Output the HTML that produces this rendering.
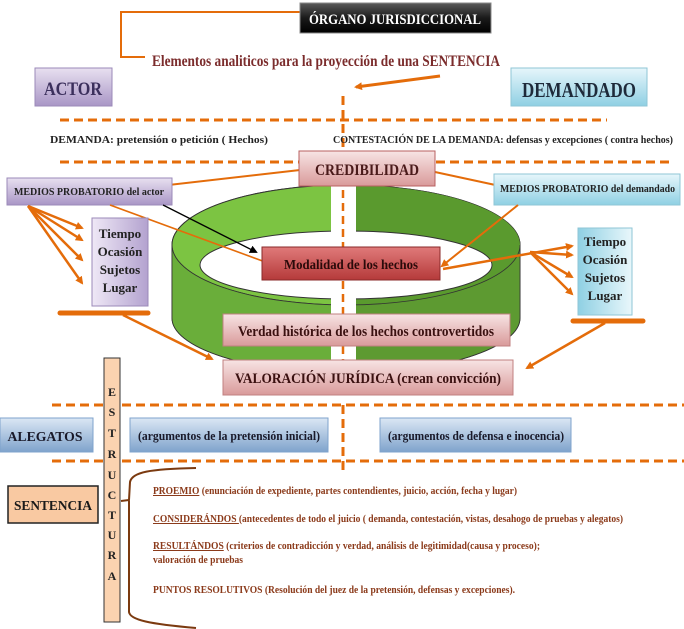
<!DOCTYPE html>
<html><head><meta charset="utf-8"><style>
html,body{margin:0;padding:0;background:#fff;width:684px;height:629px;overflow:hidden}
svg{display:block}
text{font-family:"Liberation Serif",serif;font-weight:bold}
</style></head><body>
<svg width="684" height="629" viewBox="0 0 684 629" xmlns="http://www.w3.org/2000/svg">
<defs>
<linearGradient id="dk" x1="0" y1="0" x2="0" y2="1"><stop offset="0" stop-color="#5a5a5a"/><stop offset=".5" stop-color="#1a1a1a"/><stop offset="1" stop-color="#000"/></linearGradient>
<linearGradient id="pu" x1="0" y1="0" x2="0" y2="1"><stop offset="0" stop-color="#e8e0f0"/><stop offset="1" stop-color="#a996c6"/></linearGradient>
<linearGradient id="pu2" x1="0" y1="0" x2="1" y2="0"><stop offset="0" stop-color="#efe8f6"/><stop offset="1" stop-color="#b3a2cf"/></linearGradient>
<linearGradient id="bl" x1="0" y1="0" x2="0" y2="1"><stop offset="0" stop-color="#e6f6fb"/><stop offset="1" stop-color="#8fd0e3"/></linearGradient>
<linearGradient id="bl2" x1="0" y1="0" x2="1" y2="0"><stop offset="0" stop-color="#8fd0e3"/><stop offset="1" stop-color="#e9f7fb"/></linearGradient>
<linearGradient id="pk" x1="0" y1="0" x2="0" y2="1"><stop offset="0" stop-color="#f7e4e4"/><stop offset="1" stop-color="#d99a9a"/></linearGradient>
<linearGradient id="rd" x1="0" y1="0" x2="0" y2="1"><stop offset="0" stop-color="#e07a7a"/><stop offset="1" stop-color="#b53a3a"/></linearGradient>
<linearGradient id="ab" x1="0" y1="0" x2="0" y2="1"><stop offset="0" stop-color="#dbe7f4"/><stop offset="1" stop-color="#7fa3cc"/></linearGradient>
<linearGradient id="gl" x1="0" y1="0" x2="1" y2="0"><stop offset="0" stop-color="#6cab3c"/><stop offset=".5" stop-color="#8fd14f"/><stop offset="1" stop-color="#5c9a35"/></linearGradient>
<marker id="ah" markerWidth="8" markerHeight="8" refX="6" refY="4" orient="auto" markerUnits="userSpaceOnUse"><path d="M0,0 L8,4 L0,8 z" fill="#e46c0a"/></marker>
<marker id="ahk" markerWidth="8" markerHeight="8" refX="6" refY="4" orient="auto" markerUnits="userSpaceOnUse"><path d="M0,0 L8,4 L0,8 z" fill="#000"/></marker>
</defs>

<polyline points="300,12 121,12 121,57 145,57" fill="none" stroke="#e46c0a" stroke-width="2"/>
<rect x="300" y="3" width="191" height="30" fill="url(#dk)" stroke="#888"/>
<text x="395" y="24" fill="#fff" font-size="15" text-anchor="middle" textLength="172" lengthAdjust="spacingAndGlyphs">ÓRGANO JURISDICCIONAL</text>
<text x="152" y="66" fill="#7b2c2c" font-size="16" textLength="348" lengthAdjust="spacingAndGlyphs">Elementos analiticos para la proyección de una  SENTENCIA</text>
<line x1="440" y1="76" x2="356" y2="87" stroke="#e46c0a" stroke-width="3" marker-end="url(#ah)"/>

<rect x="35" y="68" width="77" height="38" fill="url(#pu)" stroke="#9b8ab8"/>
<text x="73" y="95" fill="#3b2f5c" font-size="19" text-anchor="middle" textLength="58" lengthAdjust="spacingAndGlyphs">ACTOR</text>
<rect x="511" y="68" width="136" height="38" fill="url(#bl)" stroke="#8fc6d6"/>
<text x="579" y="97" fill="#1e2a3a" font-size="21" text-anchor="middle" textLength="114" lengthAdjust="spacingAndGlyphs">DEMANDADO</text>

<g stroke="#e46c0a" stroke-width="3" stroke-dasharray="9,5" fill="none">
<line x1="60" y1="120" x2="607" y2="120"/>
<line x1="60" y1="162" x2="300" y2="162"/>
<line x1="436" y1="162" x2="672" y2="162"/>
<line x1="52" y1="405" x2="684" y2="405"/>
<line x1="52" y1="461" x2="684" y2="461"/>
<line x1="343" y1="96" x2="343" y2="150"/>
<line x1="343" y1="405" x2="343" y2="475"/>
</g>

<text x="50" y="143" fill="#222" font-size="10" textLength="218" lengthAdjust="spacingAndGlyphs">DEMANDA:     pretensión  o petición ( Hechos)</text>
<text x="333" y="143" fill="#222" font-size="10" textLength="340" lengthAdjust="spacingAndGlyphs">CONTESTACIÓN DE LA DEMANDA: defensas y excepciones  ( contra hechos)</text>

<path d="M172,245 L172,318 A174,55 0 0 0 520,318 L520,245 A174,60 0 0 0 172,245 z" fill="url(#gl)" stroke="#333" stroke-width="1"/>
<path d="M172,245 A174,60 0 0 1 520,245 A174,60 0 0 1 172,245 z" fill="#7cc442" stroke="#333" stroke-width="1"/>
<path d="M346,185 A174,60 0 0 1 520,245 A174,60 0 0 1 346,305 z" fill="#5a9a2e"/>
<path d="M172,245 L172,318 A174,55 0 0 0 346,373 L346,305 A174,60 0 0 1 172,245z" fill="#6aae3a" stroke="#333" stroke-width="0.8"/>
<path d="M520,245 L520,318 A174,55 0 0 1 346,373 L346,305 A174,60 0 0 0 520,245z" fill="#5d9a31" stroke="#333" stroke-width="0.8"/>
<ellipse cx="346" cy="265" rx="146" ry="34" fill="#fff" stroke="#333"/>
<rect x="331" y="186" width="25" height="190" fill="#fff"/>
<line x1="343" y1="190" x2="343" y2="380" stroke="#e46c0a" stroke-width="2.5" stroke-dasharray="8,5"/>

<line x1="300" y1="170" x2="125" y2="190" stroke="#e46c0a" stroke-width="2"/>
<line x1="435" y1="172" x2="500" y2="186" stroke="#e46c0a" stroke-width="2"/>
<rect x="299" y="151" width="136" height="35" fill="url(#pk)" stroke="#b86060"/>
<text x="367" y="175" fill="#4a1a1a" font-size="16" text-anchor="middle" textLength="104" lengthAdjust="spacingAndGlyphs">CREDIBILIDAD</text>

<rect x="7" y="178" width="165" height="27" fill="url(#pu)" stroke="#9b8ab8"/>
<text x="14" y="195" fill="#222" font-size="10" textLength="150" lengthAdjust="spacingAndGlyphs">MEDIOS PROBATORIO del actor</text>
<rect x="494" y="174" width="186" height="31" fill="url(#bl)" stroke="#8fc6d6"/>
<text x="500" y="192" fill="#222" font-size="10" textLength="175" lengthAdjust="spacingAndGlyphs">MEDIOS PROBATORIO  del demandado</text>

<line x1="110" y1="205" x2="268" y2="263" stroke="#e46c0a" stroke-width="1.6"/>
<line x1="163" y1="205" x2="256" y2="252" stroke="#000" stroke-width="1.3" marker-end="url(#ahk)"/>
<line x1="518" y1="205" x2="442" y2="266" stroke="#e46c0a" stroke-width="2" marker-end="url(#ah)"/>
<rect x="262" y="247" width="178" height="33" fill="url(#rd)" stroke="#8a2a2a"/>
<text x="351" y="269" fill="#2a0a0a" font-size="14" text-anchor="middle" textLength="134" lengthAdjust="spacingAndGlyphs">Modalidad de los hechos</text>

<g stroke="#e46c0a" stroke-width="2.5" fill="none">
<line x1="28" y1="206" x2="82" y2="228" marker-end="url(#ah)"/>
<line x1="28" y1="206" x2="82" y2="240" marker-end="url(#ah)"/>
<line x1="28" y1="206" x2="82" y2="260" marker-end="url(#ah)"/>
<line x1="28" y1="206" x2="82" y2="283" marker-end="url(#ah)"/>
</g>
<rect x="92" y="218" width="56" height="88" fill="url(#pu2)" stroke="#9b8ab8"/>
<g fill="#222" font-size="13" text-anchor="middle">
<text x="120" y="238">Tiempo</text><text x="120" y="256">Ocasión</text><text x="120" y="274">Sujetos</text><text x="120" y="292">Lugar</text></g>
<g stroke="#e46c0a" stroke-width="2.5" fill="none">
<line x1="443" y1="269" x2="572" y2="246" marker-end="url(#ah)"/>
<line x1="530" y1="252" x2="572" y2="255" marker-end="url(#ah)"/>
<line x1="530" y1="252" x2="572" y2="277" marker-end="url(#ah)"/>
<line x1="530" y1="252" x2="572" y2="294" marker-end="url(#ah)"/>
</g>
<rect x="578" y="228" width="54" height="87" fill="url(#bl2)" stroke="#8fc6d6"/>
<g fill="#222" font-size="13" text-anchor="middle">
<text x="605" y="246">Tiempo</text><text x="605" y="264">Ocasión</text><text x="605" y="282">Sujetos</text><text x="605" y="300">Lugar</text></g>

<line x1="60" y1="313" x2="148" y2="313" stroke="#e46c0a" stroke-width="5" stroke-linecap="round"/>
<line x1="573" y1="321" x2="643" y2="321" stroke="#e46c0a" stroke-width="5" stroke-linecap="round"/>
<line x1="123" y1="315" x2="212" y2="359" stroke="#e46c0a" stroke-width="2.5" marker-end="url(#ah)"/>
<line x1="605" y1="323" x2="527" y2="368" stroke="#e46c0a" stroke-width="2.5" marker-end="url(#ah)"/>

<rect x="223" y="314" width="287" height="32" fill="url(#pk)" stroke="#c08080"/>
<text x="366" y="336" fill="#3a1010" font-size="15" text-anchor="middle" textLength="256" lengthAdjust="spacingAndGlyphs">Verdad histórica de los hechos controvertidos</text>
<rect x="223" y="360" width="290" height="35" fill="url(#pk)" stroke="#c08080"/>
<text x="368" y="383" fill="#3a1010" font-size="15" text-anchor="middle" textLength="266" lengthAdjust="spacingAndGlyphs">VALORACIÓN JURÍDICA (crean convicción)</text>

<rect x="104" y="358" width="16" height="264" fill="#fbd3b0" stroke="#333"/>
<g fill="#222" font-size="12" text-anchor="middle">
<text x="112" y="396">E</text><text x="112" y="416">S</text><text x="112" y="437">T</text><text x="112" y="458">R</text><text x="112" y="479">U</text><text x="112" y="499">C</text><text x="112" y="519">T</text><text x="112" y="539">U</text><text x="112" y="559">R</text><text x="112" y="580">A</text>
</g>

<rect x="0" y="418" width="93" height="34" fill="url(#ab)" stroke="#7fa3cc"/>
<text x="45" y="441" fill="#1a1a2a" font-size="14" text-anchor="middle" textLength="75" lengthAdjust="spacingAndGlyphs">ALEGATOS</text>
<rect x="130" y="418" width="198" height="34" fill="url(#ab)" stroke="#7fa3cc"/>
<text x="229" y="440" fill="#1a1a2a" font-size="13" text-anchor="middle" textLength="182" lengthAdjust="spacingAndGlyphs">(argumentos de la pretensión inicial)</text>
<rect x="380" y="418" width="191" height="34" fill="url(#ab)" stroke="#7fa3cc"/>
<text x="476" y="440" fill="#1a1a2a" font-size="13" text-anchor="middle" textLength="176" lengthAdjust="spacingAndGlyphs">(argumentos de defensa e inocencia)</text>

<rect x="8" y="486" width="90" height="37" fill="#f9c9a2" stroke="#222" stroke-width="1.5"/>
<text x="53" y="510" fill="#1a1a1a" font-size="14" text-anchor="middle" textLength="78" lengthAdjust="spacingAndGlyphs">SENTENCIA</text>

<path d="M196,468 C150,469 132,472 130,482 L129,500 L121,501 M129,501 L129,612 C130,620 150,624 196,628" fill="none" stroke="#7b3a10" stroke-width="2"/>
<g fill="#8b3a1a" font-size="10">
<text x="153" y="494" textLength="364" lengthAdjust="spacingAndGlyphs"><tspan text-decoration="underline">PROEMIO</tspan>  (enunciación de expediente, partes contendientes, juicio, acción, fecha y lugar)</text>
<text x="153" y="522" textLength="470" lengthAdjust="spacingAndGlyphs"><tspan text-decoration="underline">CONSIDERÁNDOS </tspan> (antecedentes de todo el juicio ( demanda, contestación, vistas, desahogo de pruebas y alegatos)</text>
<text x="153" y="549" textLength="387" lengthAdjust="spacingAndGlyphs"><tspan text-decoration="underline">RESULTÁNDOS</tspan>  (criterios de contradicción y verdad, análisis de legitimidad(causa y proceso);</text>
<text x="153" y="563" textLength="90" lengthAdjust="spacingAndGlyphs">valoración de pruebas</text>
<text x="153" y="593" textLength="362" lengthAdjust="spacingAndGlyphs">PUNTOS RESOLUTIVOS  (Resolución del juez de la pretensión, defensas y excepciones).</text>
</g>
</svg>
</body></html>
